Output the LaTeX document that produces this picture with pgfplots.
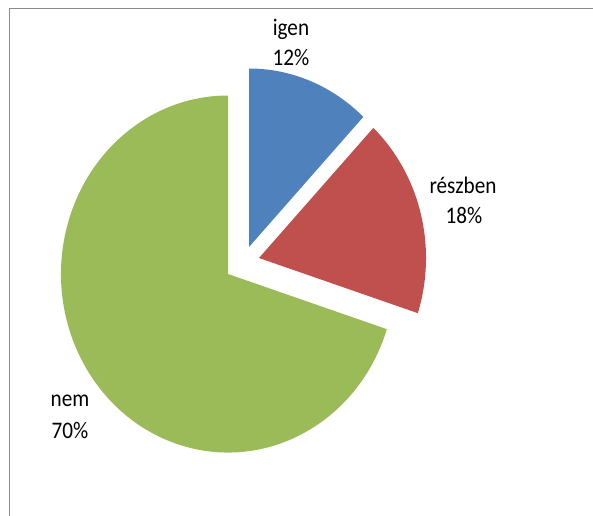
\documentclass[border=0pt]{standalone}
\usepackage{pgfplots}
\pgfplotsset{compat=1.18}
\usepackage{fontspec}
\setmainfont{Carlito}
\definecolor{pieblue}{HTML}{4F81BD}
\definecolor{piered}{HTML}{C0504D}
\definecolor{piegreen}{HTML}{9BBB59}
\definecolor{framegray}{HTML}{8C8C8C}
% values (percent)
\def\vIgen{12}
\def\vReszben{18}
\def\vNem{70}
\pgfmathsetmacro\aA{90}
\pgfmathsetmacro\aB{90-3.6*\vIgen}
\pgfmathsetmacro\aC{\aB-3.6*\vReszben}
\pgfmathsetmacro\aD{\aC-3.6*\vNem}
\def\rx{83.5pt}
\def\ry{89.25pt}
\newcommand{\lbl}[1]{\scalebox{1}[1.12]{#1}}
\begin{document}
\fontsize{10.6}{12}\selectfont
\begin{tikzpicture}
\begin{axis}[name=ax,
  scale only axis, width=296.5pt, height=257.5pt,
  xmin=0, xmax=593, ymin=0, ymax=515,
  hide axis, clip=true]
% frame
\draw[framegray, line width=0.6pt] (axis cs:9.5,-20) -- (axis cs:9.5,506.5) -- (axis cs:620,506.5);
% igen (exploded)
\fill[pieblue] (axis cs:249,268) -- ++({\rx*cos(\aA)},{\ry*sin(\aA)})
  arc[start angle=\aA, end angle=\aB, x radius=\rx, y radius=\ry] -- cycle;
% reszben (exploded)
\fill[piered] (axis cs:259,257) -- ++({\rx*cos(\aB)},{\ry*sin(\aB)})
  arc[start angle=\aB, end angle=\aC, x radius=\rx, y radius=\ry] -- cycle;
% nem
\fill[piegreen] (axis cs:228,241) -- ++({\rx*cos(\aC)},{\ry*sin(\aC)})
  arc[start angle=\aC, end angle=\aD, x radius=\rx, y radius=\ry] -- cycle;
% labels
\node[inner sep=0pt] at (axis cs:291,486) {\lbl{igen}};
\node[inner sep=0pt] at (axis cs:291,457.5) {\lbl{12\%}};
\node[inner sep=0pt] at (axis cs:463,330) {\lbl{részben}};
\node[inner sep=0pt] at (axis cs:464,300) {\lbl{18\%}};
\node[inner sep=0pt] at (axis cs:70,114) {\lbl{nem}};
\node[inner sep=0pt] at (axis cs:70,85) {\lbl{70\%}};
\end{axis}
\pgfresetboundingbox
\path (ax.south west) rectangle (ax.north east);
\end{tikzpicture}
\end{document}
